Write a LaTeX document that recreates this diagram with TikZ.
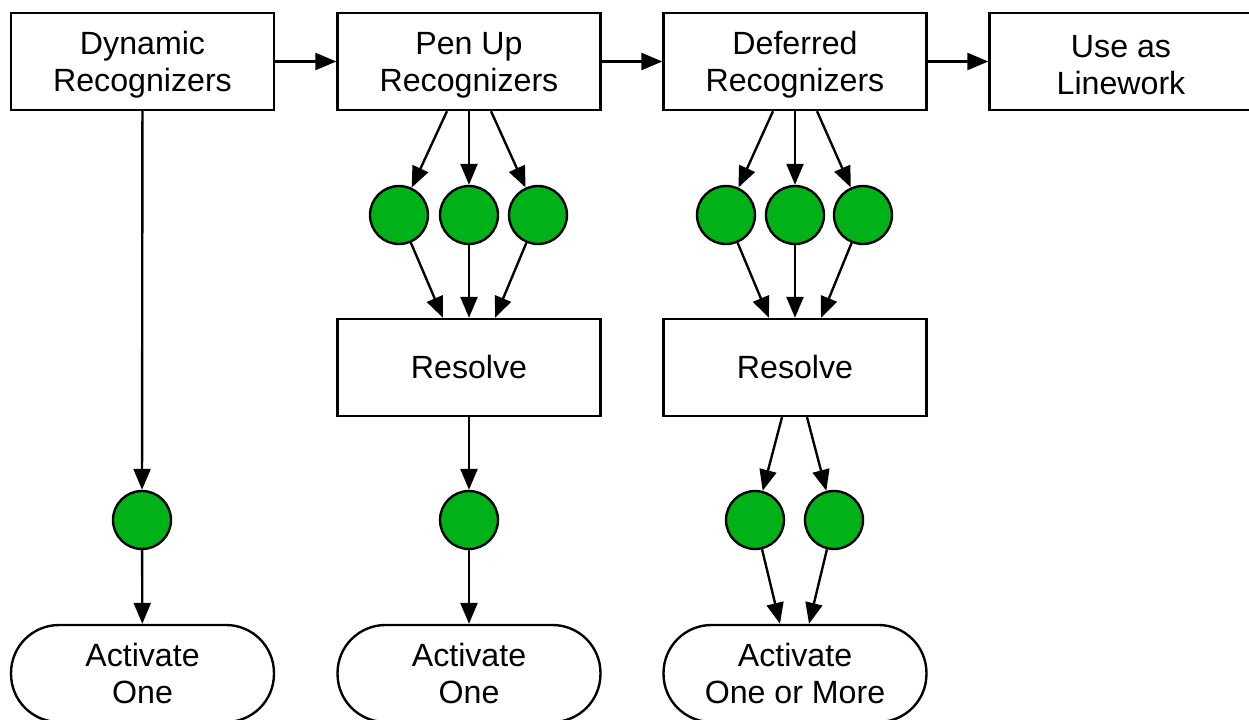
\documentclass[tikz,border=0pt]{standalone}
\usepackage{fontspec}
\setmainfont{Liberation Sans}
\usepackage{xcolor}
\usepackage{tikz}
\usetikzlibrary{calc, arrows.meta}

\definecolor{dotgreen}{RGB}{0,178,24}

\begin{document}
\begin{tikzpicture}[x=0.02cm, y=-0.02cm,
		box/.style = {draw, line width = 1.35pt, fill = white, minimum width = 5.26cm, minimum height = 1.94cm, inner sep = 0pt, align = center, font = \fontsize{18.3}{21}\selectfont},
		endbox/.style = {box, rounded corners = 0.96cm},
		dot/.style = {circle, draw, line width = 1.35pt, fill = dotgreen, minimum size = 1.16cm, inner sep = 0pt},
		arr/.style = {line width = 1.35pt, -{Triangle[length = 0.42cm, width = 0.34cm]}}]
		%frame
		\useasboundingbox (0,0) rectangle (1249,720);

		%top row
		\node [box] (dyn) at (142.5,61.5) {\rule{0pt}{17pt}Dynamic\\Recognizers};
		\node [box] (pen) at (469,61.5) {\rule{0pt}{17pt}Pen Up\\Recognizers};
		\node [box] (def) at (795,61.5) {\rule{0pt}{17pt}Deferred\\Recognizers};
		\node [box] (use) at (1121,61.5) {\rule{0pt}{17pt}Use as\\Linework};

		\draw [arr] (dyn) -- (pen);
		\draw [arr] (pen) -- (def);
		\draw [arr] (def) -- (use);

		%recognizer dots
		\node [dot] (pc1) at (399,215) {};
		\node [dot] (pc2) at (469,215) {};
		\node [dot] (pc3) at (538,215) {};
		\node [dot] (dc1) at (726,215) {};
		\node [dot] (dc2) at (795,215) {};
		\node [dot] (dc3) at (863,215) {};

		%resolve
		\node [box] (pres) at (469,367.5) {Resolve};
		\node [box] (dres) at (795,367.5) {Resolve};

		%result dots
		\node [dot] (yc) at (142,520) {};
		\node [dot] (pc) at (469,520) {};
		\node [dot] (dca) at (755,520) {};
		\node [dot] (dcb) at (834,520) {};

		%activate
		\node [endbox] (yact) at (142.5,673.5) {Activate\\One};
		\node [endbox] (pact) at (469,673.5) {Activate\\One};
		\node [endbox] (dact) at (795,673.5) {Activate\\One or More};

		%dynamic column
		\draw [arr] (dyn) -- (yc);
		\draw [arr] (yc) -- (yact);

		%pen up column
		\draw [arr] ($(pen.south)+(-22,0)$) -- (pc1);
		\draw [arr] (pen.south) -- (pc2);
		\draw [arr] ($(pen.south)+(22,0)$) -- (pc3);
		\draw [arr] (pc1) -- ($(pres.north)+(-26,0)$);
		\draw [arr] (pc2) -- (pres.north);
		\draw [arr] (pc3) -- ($(pres.north)+(26,0)$);
		\draw [arr] (pres) -- (pc);
		\draw [arr] (pc) -- (pact);

		%deferred column
		\draw [arr] ($(def.south)+(-22,0)$) -- (dc1);
		\draw [arr] (def.south) -- (dc2);
		\draw [arr] ($(def.south)+(22,0)$) -- (dc3);
		\draw [arr] (dc1) -- ($(dres.north)+(-26,0)$);
		\draw [arr] (dc2) -- (dres.north);
		\draw [arr] (dc3) -- ($(dres.north)+(26,0)$);
		\draw [arr] ($(dres.south)+(-13,0)$) -- (dca);
		\draw [arr] ($(dres.south)+(12,0)$) -- (dcb);
		\draw [arr] (dca) -- ($(dact.north)+(-15,0)$);
		\draw [arr] (dcb) -- ($(dact.north)+(14,0)$);
\end{tikzpicture}
\end{document}
